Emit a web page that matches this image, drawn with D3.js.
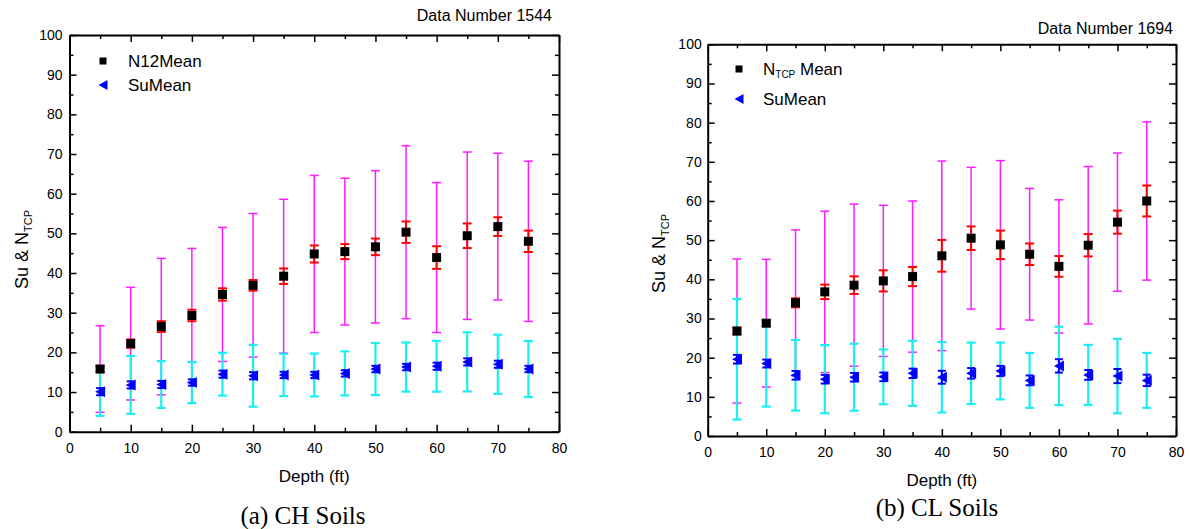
<!DOCTYPE html>
<html>
<head>
<meta charset="utf-8">
<script src="https://cdn.jsdelivr.net/npm/d3@7"></script>
<style>
  html, body { margin: 0; padding: 0; background: #ffffff; }
  svg { display: block; }
  text { font-family: "Liberation Sans", Arial, sans-serif; fill: #000; }
  text.serif { font-family: "Liberation Serif", "Times New Roman", serif; }
</style>
</head>
<body>
<svg id="chart" width="1194" height="529"></svg>
<script>
// ---------------- DATA ----------------
const depths = [5, 10, 15, 20, 25, 30, 35, 40, 45, 50, 55, 60, 65, 70, 75];
const xTicks = [0, 10, 20, 30, 40, 50, 60, 70, 80];
const yTicks = [0, 10, 20, 30, 40, 50, 60, 70, 80, 90, 100];

// (a) CH soils
const chNMean = [15.8, 22.2, 26.5, 29.3, 34.6, 36.9, 39.2, 44.8, 45.4, 46.6, 50.3, 43.9, 49.4, 51.7, 48.0];
const chNSD   = [10.9, 14.2, 17.2, 16.9, 16.9, 18.1, 19.4, 19.8, 18.5, 19.2, 21.8, 18.9, 21.1, 18.5, 20.2];
const chNSE   = [0.8, 1.05, 1.35, 1.45, 1.55, 1.35, 1.95, 2.15, 1.9, 2.1, 2.7, 2.85, 3.1, 2.35, 2.7];
const chSuMean = [10.1, 11.8, 11.9, 12.4, 14.5, 14.1, 14.3, 14.3, 14.7, 15.8, 16.3, 16.5, 17.6, 17.0, 15.8];
const chSuSD   = [6.1, 7.3, 5.9, 5.2, 5.4, 7.8, 5.35, 5.4, 5.55, 6.55, 6.2, 6.4, 7.45, 7.45, 7.05];
const chSuSE   = [0.9, 0.9, 0.9, 0.8, 0.9, 0.9, 0.8, 0.8, 0.8, 0.8, 0.8, 0.9, 0.9, 0.9, 0.8];

// (b) CL soils
const clNMean = [26.8, 28.8, 34.0, 36.8, 38.5, 39.6, 40.7, 46.0, 50.5, 48.8, 46.4, 43.3, 48.7, 54.6, 60.0];
const clNSD   = [18.4, 16.3, 18.6, 20.6, 20.7, 19.3, 19.3, 24.2, 18.1, 21.5, 16.8, 17.0, 20.1, 17.65, 20.2];
const clNSE   = [0.85, 0.75, 1.15, 1.85, 2.25, 2.7, 2.45, 4.05, 3.0, 3.65, 2.75, 2.65, 2.85, 2.95, 3.95];
const clSuMean = [19.6, 18.5, 15.5, 14.5, 15.0, 15.1, 16.0, 15.0, 16.0, 16.6, 14.2, 17.9, 15.6, 15.3, 14.2];
const clSuSD   = [15.4, 11.0, 9.0, 8.7, 8.55, 7.0, 8.3, 9.0, 7.85, 7.25, 7.0, 10.0, 7.65, 9.5, 7.0];
const clSuSE   = [1.1, 1.0, 1.1, 1.1, 1.1, 1.1, 1.2, 1.65, 1.35, 1.3, 1.25, 1.7, 1.25, 1.8, 1.45];

const chDataNumber = "Data Number 1544";
const clDataNumber = "Data Number 1694";
const chCaption = "(a) CH Soils";
const clCaption = "(b) CL Soils";
const xLabel = "Depth (ft)";

// ---------------- DRAW ----------------
const svg = d3.select("#chart");
svg.append("rect").attr("width", 1194).attr("height", 529).attr("fill", "#fff");

function panel(cfg) {
  const g = svg.append("g");
  const x = d3.scaleLinear().domain([0, 80]).range([cfg.x0, cfg.x1]);
  const y = d3.scaleLinear().domain([0, 100]).range([cfg.y1, cfg.y0]);
  const minorX = d3.range(5, 80, 10);
  const minorY = d3.range(5, 100, 10);

  function styleAxis(sel) {
    sel.select(".domain").attr("stroke", "#000").attr("stroke-width", 2);
    sel.selectAll(".tick line").attr("stroke", "#000").attr("stroke-width", 1.5);
    sel.selectAll(".tick text").attr("font-size", 14).attr("fill", "#111");
  }

  // bottom
  g.append("g").attr("transform", `translate(0,${cfg.y1})`)
    .call(d3.axisBottom(x).tickValues(xTicks).tickSize(-7).tickSizeOuter(0).tickPadding(11).tickFormat(d3.format("d")))
    .call(styleAxis);
  g.append("g").attr("transform", `translate(0,${cfg.y1})`)
    .call(d3.axisBottom(x).tickValues(minorX).tickSize(-4).tickFormat(""))
    .call(s => { s.select(".domain").remove(); styleAxis(s); });
  // top
  g.append("g").attr("transform", `translate(0,${cfg.y0})`)
    .call(d3.axisTop(x).tickValues(xTicks).tickSize(-7).tickSizeOuter(0).tickFormat(""))
    .call(styleAxis);
  g.append("g").attr("transform", `translate(0,${cfg.y0})`)
    .call(d3.axisTop(x).tickValues(minorX).tickSize(-4).tickFormat(""))
    .call(s => { s.select(".domain").remove(); styleAxis(s); });
  // left
  g.append("g").attr("transform", `translate(${cfg.x0},0)`)
    .call(d3.axisLeft(y).tickValues(yTicks).tickSize(-7).tickSizeOuter(0).tickPadding(cfg.yPad).tickFormat(d3.format("d")))
    .call(styleAxis);
  g.append("g").attr("transform", `translate(${cfg.x0},0)`)
    .call(d3.axisLeft(y).tickValues(minorY).tickSize(-4).tickFormat(""))
    .call(s => { s.select(".domain").remove(); styleAxis(s); });
  // right
  g.append("g").attr("transform", `translate(${cfg.x1},0)`)
    .call(d3.axisRight(y).tickValues(yTicks).tickSize(-7).tickSizeOuter(0).tickFormat(""))
    .call(styleAxis);
  g.append("g").attr("transform", `translate(${cfg.x1},0)`)
    .call(d3.axisRight(y).tickValues(minorY).tickSize(-4).tickFormat(""))
    .call(s => { s.select(".domain").remove(); styleAxis(s); });

  const rowsN = depths.map((d, i) => ({ d, m: cfg.nMean[i], sd: cfg.nSD[i], se: cfg.nSE[i] }));
  const rowsS = depths.map((d, i) => ({ d, m: cfg.suMean[i], sd: cfg.suSD[i], se: cfg.suSE[i] }));

  function errorBars(rows, key, color, width, cap) {
    const eg = g.append("g").attr("stroke", color).attr("stroke-width", width).attr("fill", "none");
    const sel = eg.selectAll("g").data(rows).join("g");
    sel.append("line")
      .attr("x1", r => x(r.d)).attr("x2", r => x(r.d))
      .attr("y1", r => y(r.m - r[key])).attr("y2", r => y(r.m + r[key]));
    sel.append("line")
      .attr("x1", r => x(r.d) - cap).attr("x2", r => x(r.d) + cap)
      .attr("y1", r => y(r.m + r[key])).attr("y2", r => y(r.m + r[key]));
    sel.append("line")
      .attr("x1", r => x(r.d) - cap).attr("x2", r => x(r.d) + cap)
      .attr("y1", r => y(r.m - r[key])).attr("y2", r => y(r.m - r[key]));
  }

  errorBars(rowsN, "sd", "#ff1aff", 1.5, 4.5);
  errorBars(rowsS, "sd", "#1aeef2", 2.2, 4.5);
  errorBars(rowsN, "se", "#ff0000", 2, 4.5);

  g.append("g").selectAll("rect").data(rowsN).join("rect")
    .attr("x", r => x(r.d) - 4.5).attr("y", r => y(r.m) - 4.5)
    .attr("width", 9).attr("height", 9).attr("fill", "#000");

  errorBars(rowsS, "se", "#0000ff", 2, 4);
  const tri = "M-5,0L5,-5.5L5,5.5Z";
  g.append("g").selectAll("path").data(rowsS).join("path")
    .attr("d", tri).attr("transform", r => `translate(${x(r.d)},${y(r.m)})`)
    .attr("fill", "#0000ff");

  // legend
  g.append("rect").attr("x", cfg.legX - 3.5).attr("y", cfg.legY1 - 3.5).attr("width", 7).attr("height", 7).attr("fill", "#000");
  g.append("path").attr("d", "M-4.5,0L4.5,-5L4.5,5Z").attr("transform", `translate(${cfg.legX},${cfg.legY2})`).attr("fill", "#0000ff");
  const t1 = g.append("text").attr("x", cfg.legTX).attr("y", cfg.legY1 + 6).attr("font-size", 17);
  if (cfg.subLegend) {
    t1.append("tspan").text("N");
    t1.append("tspan").attr("font-size", 10).attr("dy", 3).text("TCP");
    t1.append("tspan").attr("dy", -3).text(" Mean");
  } else {
    t1.text(cfg.nLegend);
  }
  g.append("text").attr("x", cfg.legTX).attr("y", cfg.legY2 + 6).attr("font-size", 17).text("SuMean");

  // data number
  g.append("text").attr("x", cfg.dnX).attr("y", cfg.dnY).attr("text-anchor", "end")
    .attr("font-size", 16).text(cfg.dataNumber);

  // x label
  g.append("text").attr("x", (cfg.x0 + cfg.x1) / 2).attr("y", cfg.xlY).attr("text-anchor", "middle")
    .attr("font-size", 17).text(xLabel);

  // y label
  const yl = g.append("text").attr("transform", `translate(${cfg.ylX},${cfg.ylY}) rotate(-90)`)
    .attr("font-size", 18);
  yl.append("tspan").text("Su & N");
  yl.append("tspan").attr("font-size", 11).attr("dy", 4).text("TCP");

  // caption
  g.append("text").attr("class", "serif").attr("x", cfg.capX).attr("y", cfg.capY)
    .attr("text-anchor", "middle").attr("font-size", 25)
    .style("font-family", '"Liberation Serif", "Times New Roman", serif').text(cfg.caption);
}

panel({
  x0: 69.5, x1: 559, y0: 35, y1: 431.7, yPad: 7,
  nMean: chNMean, nSD: chNSD, nSE: chNSE, suMean: chSuMean, suSD: chSuSD, suSE: chSuSE,
  legX: 103, legY1: 61, legY2: 85, legTX: 128, nLegend: "N12Mean", subLegend: false,
  dataNumber: chDataNumber, dnX: 552, dnY: 21,
  xlY: 482, ylX: 28, ylY: 289,
  caption: chCaption, capX: 303, capY: 524
});

panel({
  x0: 707.7, x1: 1176, y0: 44.3, y1: 436, yPad: 6,
  nMean: clNMean, nSD: clNSD, nSE: clNSE, suMean: clSuMean, suSD: clSuSD, suSE: clSuSE,
  legX: 739, legY1: 69, legY2: 99, legTX: 763, nLegend: "", subLegend: true,
  dataNumber: clDataNumber, dnX: 1173, dnY: 34,
  xlY: 486, ylX: 665, ylY: 293,
  caption: clCaption, capX: 937, capY: 516
});
</script>
</body>
</html>
